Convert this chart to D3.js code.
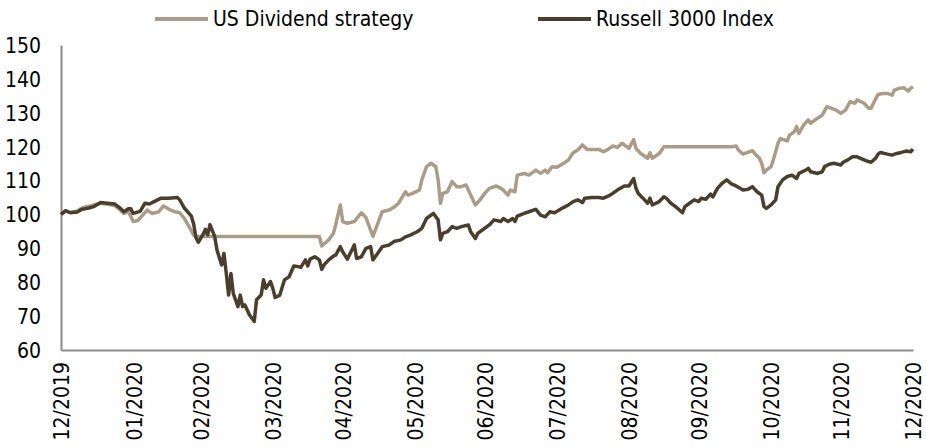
<!DOCTYPE html>
<html>
<head>
<meta charset="utf-8">
<script src="https://cdn.jsdelivr.net/npm/d3@7"></script>
<style>
  body { margin: 0; background: #fff; }
  svg text { font-family: "DejaVu Sans Condensed", "DejaVu Sans", sans-serif; font-stretch: condensed; fill: #000; }
</style>
</head>
<body>
<svg width="926" height="448"></svg>
<script>
// series names shown in the legend
var seriesNames = ["US Dividend strategy", "Russell 3000 Index"];

// US Dividend strategy
var strategyDates = [
  "2019-12-31","2020-01-02","2020-01-04","2020-01-07","2020-01-09","2020-01-12","2020-01-14","2020-01-17","2020-01-20","2020-01-23",
  "2020-01-25","2020-01-27","2020-01-29","2020-01-31","2020-02-02","2020-02-06","2020-02-08","2020-02-11","2020-02-13","2020-02-16",
  "2020-02-18","2020-02-20","2020-02-22","2020-02-24","2020-02-26","2020-02-27","2020-04-20","2020-04-21","2020-04-24","2020-04-26",
  "2020-04-27","2020-04-29","2020-04-30","2020-05-02","2020-05-05","2020-05-08","2020-05-10","2020-05-13","2020-05-17","2020-05-20",
  "2020-05-22","2020-05-24","2020-05-27","2020-05-28","2020-05-30","2020-06-02","2020-06-03","2020-06-05","2020-06-07","2020-06-09",
  "2020-06-10","2020-06-11","2020-06-12","2020-06-14","2020-06-16","2020-06-18","2020-06-20","2020-06-22","2020-06-24","2020-06-26",
  "2020-06-28","2020-06-30","2020-07-02","2020-07-05","2020-07-07","2020-07-08","2020-07-10","2020-07-11","2020-07-13","2020-07-14",
  "2020-07-17","2020-07-19","2020-07-22","2020-07-24","2020-07-26","2020-07-27","2020-07-29","2020-07-31","2020-08-03","2020-08-05",
  "2020-08-07","2020-08-09","2020-08-11","2020-08-13","2020-08-15","2020-08-18","2020-08-20","2020-08-22","2020-08-24","2020-08-26",
  "2020-08-28","2020-08-30","2020-08-31","2020-09-02","2020-09-03","2020-09-05","2020-09-08","2020-09-09","2020-09-10","2020-09-13",
  "2020-09-15","2020-10-14","2020-10-16","2020-10-17","2020-10-19","2020-10-21","2020-10-23","2020-10-24","2020-10-26","2020-10-27",
  "2020-10-28","2020-10-29","2020-10-31","2020-11-01","2020-11-02","2020-11-03","2020-11-04","2020-11-07","2020-11-08","2020-11-10",
  "2020-11-11","2020-11-12","2020-11-14","2020-11-16","2020-11-17","2020-11-20","2020-11-22","2020-11-24","2020-11-26","2020-11-28",
  "2020-11-30","2020-12-02","2020-12-04","2020-12-06","2020-12-07","2020-12-10","2020-12-12","2020-12-13","2020-12-15","2020-12-16",
  "2020-12-18","2020-12-20","2020-12-22","2020-12-23","2020-12-25","2020-12-27","2020-12-29","2020-12-30","2020-12-31"
];
var strategyValues = [
  100.0,100.9,100.6,101.0,101.9,102.4,102.8,103.3,103.0,102.6,
  101.6,100.3,100.8,97.9,98.2,101.3,100.3,100.8,102.5,101.3,
  100.8,100.5,98.8,96.4,93.9,93.5,93.5,90.7,92.5,94.4,
  97.0,102.8,97.9,97.4,97.9,100.5,99.1,93.5,100.8,101.3,
  102.1,103.3,106.7,105.7,106.2,107.2,110.2,114.1,115.1,114.1,
  110.2,103.3,106.2,106.7,109.7,108.2,108.2,108.7,105.7,102.8,
  104.3,106.2,107.7,108.4,107.7,107.2,105.7,107.2,106.7,111.6,
  112.1,111.6,113.1,112.1,113.1,112.3,114.1,113.9,115.1,116.1,
  118.2,119.0,120.5,119.2,119.2,119.2,118.5,119.2,120.2,119.8,
  121.0,120.0,119.5,122.1,119.5,118.0,116.6,118.2,116.6,118.0,
  120.0,120.0,120.2,119.0,117.8,118.3,118.8,118.0,116.6,115.1,
  112.3,113.1,114.1,116.1,118.5,121.0,122.4,121.7,123.4,124.4,
  125.9,123.9,126.4,127.9,126.9,128.4,129.3,131.8,131.3,130.8,
  129.8,130.8,133.3,132.8,133.8,132.8,131.3,131.3,134.2,135.4,
  135.7,135.7,135.2,136.7,137.2,137.4,136.4,137.2,137.7
];

// Russell 3000 Index
var russellDates = [
  "2019-12-31","2020-01-02","2020-01-04","2020-01-07","2020-01-09","2020-01-12","2020-01-14","2020-01-17","2020-01-20","2020-01-23",
  "2020-01-25","2020-01-27","2020-01-29","2020-01-30","2020-01-31","2020-02-03","2020-02-05","2020-02-07","2020-02-09","2020-02-12",
  "2020-02-15","2020-02-19","2020-02-20","2020-02-22","2020-02-25","2020-02-26","2020-02-27","2020-02-28","2020-03-01","2020-03-02",
  "2020-03-03","2020-03-04","2020-03-06","2020-03-07","2020-03-09","2020-03-10","2020-03-11","2020-03-12","2020-03-13","2020-03-14",
  "2020-03-16","2020-03-17","2020-03-18","2020-03-19","2020-03-21","2020-03-23","2020-03-24","2020-03-26","2020-03-27","2020-03-28",
  "2020-03-30","2020-03-31","2020-04-01","2020-04-03","2020-04-05","2020-04-07","2020-04-09","2020-04-11","2020-04-12","2020-04-14",
  "2020-04-15","2020-04-16","2020-04-18","2020-04-20","2020-04-21","2020-04-22","2020-04-24","2020-04-26","2020-04-27","2020-04-29",
  "2020-04-30","2020-05-02","2020-05-05","2020-05-06","2020-05-08","2020-05-10","2020-05-12","2020-05-13","2020-05-15","2020-05-17",
  "2020-05-20","2020-05-22","2020-05-25","2020-05-27","2020-05-29","2020-06-01","2020-06-03","2020-06-05","2020-06-08","2020-06-10",
  "2020-06-11","2020-06-12","2020-06-14","2020-06-16","2020-06-18","2020-06-20","2020-06-23","2020-06-24","2020-06-26","2020-06-27",
  "2020-06-29","2020-07-02","2020-07-04","2020-07-07","2020-07-08","2020-07-10","2020-07-12","2020-07-13","2020-07-14","2020-07-17",
  "2020-07-19","2020-07-21","2020-07-22","2020-07-24","2020-07-26","2020-07-28","2020-07-30","2020-08-01","2020-08-03","2020-08-05",
  "2020-08-07","2020-08-09","2020-08-11","2020-08-12","2020-08-15","2020-08-18","2020-08-20","2020-08-22","2020-08-24","2020-08-26",
  "2020-08-29","2020-08-31","2020-09-02","2020-09-03","2020-09-04","2020-09-06","2020-09-08","2020-09-09","2020-09-10","2020-09-13",
  "2020-09-15","2020-09-16","2020-09-18","2020-09-20","2020-09-23","2020-09-24","2020-09-26","2020-09-28","2020-09-30","2020-10-01",
  "2020-10-03","2020-10-05","2020-10-06","2020-10-08","2020-10-10","2020-10-12","2020-10-14","2020-10-16","2020-10-19","2020-10-21",
  "2020-10-23","2020-10-25","2020-10-27","2020-10-28","2020-10-29","2020-10-31","2020-11-02","2020-11-03","2020-11-05","2020-11-07",
  "2020-11-09","2020-11-11","2020-11-12","2020-11-15","2020-11-16","2020-11-17","2020-11-20","2020-11-22","2020-11-23","2020-11-25",
  "2020-11-27","2020-11-30","2020-12-01","2020-12-03","2020-12-05","2020-12-07","2020-12-09","2020-12-11","2020-12-13","2020-12-15",
  "2020-12-16","2020-12-17","2020-12-20","2020-12-22","2020-12-24","2020-12-26","2020-12-28","2020-12-30","2020-12-31"
];
var russellValues = [
  100.0,101.1,100.5,100.7,101.5,101.9,102.3,103.5,103.3,103.1,
  102.1,100.8,101.7,101.7,100.3,100.9,103.3,103.1,103.8,104.8,
  104.8,105.0,104.3,101.9,99.5,97.1,93.1,91.8,94.1,95.6,
  94.0,97.0,93.5,89.5,85.1,88.5,82.6,76.2,82.6,76.7,
  72.8,76.2,72.8,73.3,70.3,68.4,74.8,76.2,80.7,78.2,
  80.2,78.2,75.5,76.2,80.7,81.6,84.8,84.6,84.4,86.6,
  84.8,86.8,87.5,86.6,83.8,85.1,86.6,87.7,88.0,90.5,
  89.0,86.8,91.0,87.0,87.5,90.0,90.5,86.6,88.5,90.5,
  91.0,92.0,92.5,93.4,93.9,94.9,95.9,98.8,100.3,98.4,
  92.5,94.4,94.9,96.4,95.9,96.4,96.9,94.9,92.9,94.4,
  95.4,96.9,98.4,97.9,98.8,97.9,98.8,97.9,99.5,100.3,
  100.8,101.3,101.5,99.8,99.3,100.8,100.5,101.3,102.1,102.8,
  103.8,104.3,103.5,104.8,105.0,105.0,104.8,105.4,106.2,107.2,
  108.4,108.4,110.6,107.7,106.2,104.8,103.3,104.8,102.8,103.8,
  105.2,104.8,103.3,102.3,100.5,102.3,103.3,104.3,103.8,104.8,
  104.5,106.0,105.2,107.7,109.2,110.2,109.0,108.4,107.2,107.4,
  108.2,106.7,105.7,102.3,101.8,102.8,104.3,108.2,110.2,111.2,
  111.6,110.6,112.1,113.1,113.6,112.6,112.1,112.6,114.1,114.8,
  115.1,114.6,115.4,116.1,117.0,117.0,116.4,115.8,115.4,116.6,
  117.8,118.3,117.8,117.5,118.0,118.3,118.7,118.5,119.3
];

// axis ticks
var yTicks = [60, 70, 80, 90, 100, 110, 120, 130, 140, 150];
var xTickDates = ["2019-12-31","2020-01-31","2020-02-29","2020-03-31","2020-04-30","2020-05-31","2020-06-30",
                  "2020-07-31","2020-08-31","2020-09-30","2020-10-31","2020-11-30","2020-12-31"];

var parseDate = d3.timeParse("%Y-%m-%d");
var colors = ["#ab9c87", "#4a3e2d"];

var svg = d3.select("svg");
var plotLeft = 61, plotRight = 913, plotTop = 45, plotBottom = 350;

var x = d3.scaleTime()
    .domain([parseDate("2019-12-31"), parseDate("2020-12-31")])
    .range([plotLeft, plotRight]);
var y = d3.scaleLinear()
    .domain([60, 150])
    .range([plotBottom, plotTop]);

// y axis
var yAxis = svg.append("g")
    .attr("transform", "translate(" + plotLeft + ",0)")
    .call(d3.axisLeft(y).tickValues(yTicks).tickSize(0).tickPadding(20));
yAxis.select(".domain").attr("stroke", "#8c8c8c").attr("stroke-width", 2);
yAxis.selectAll("text").style("font-size", "21px").attr("dy", "0.35em");

// x axis with rotated month labels
var xAxis = svg.append("g")
    .attr("transform", "translate(0," + plotBottom + ")")
    .call(d3.axisBottom(x)
      .tickValues(xTickDates.map(parseDate))
      .tickFormat(d3.timeFormat("%m/%Y"))
      .tickSize(0));
xAxis.select(".domain").attr("stroke", "#8c8c8c").attr("stroke-width", 2);
xAxis.selectAll("text")
    .style("font-size", "21px")
    .style("text-anchor", "end")
    .attr("transform", "rotate(-90)")
    .attr("x", -12)
    .attr("y", 1)
    .attr("dy", "0.33em");

// lines
var line = d3.line()
    .x(function(d) { return x(d.date); })
    .y(function(d) { return y(d.value); });

var series = [
  strategyDates.map(function(d, i) { return { date: parseDate(d), value: strategyValues[i] }; }),
  russellDates.map(function(d, i) { return { date: parseDate(d), value: russellValues[i] }; })
];

svg.append("g").selectAll("path")
    .data(series)
    .enter().append("path")
    .attr("d", line)
    .attr("fill", "none")
    .attr("stroke", function(d, i) { return colors[i]; })
    .attr("stroke-width", 3.5)
    .attr("stroke-linejoin", "round");

// legend
var legendX = [155, 538];
var legend = svg.append("g").selectAll("g")
    .data(seriesNames)
    .enter().append("g")
    .attr("transform", function(d, i) { return "translate(" + legendX[i] + ",19)"; });
legend.append("line")
    .attr("x1", 0).attr("x2", 53)
    .attr("stroke", function(d, i) { return colors[i]; })
    .attr("stroke-width", 4);
legend.append("text")
    .attr("x", 58)
    .attr("dy", "0.35em")
    .style("font-size", "21px")
    .text(function(d) { return d; });
</script>
</body>
</html>
